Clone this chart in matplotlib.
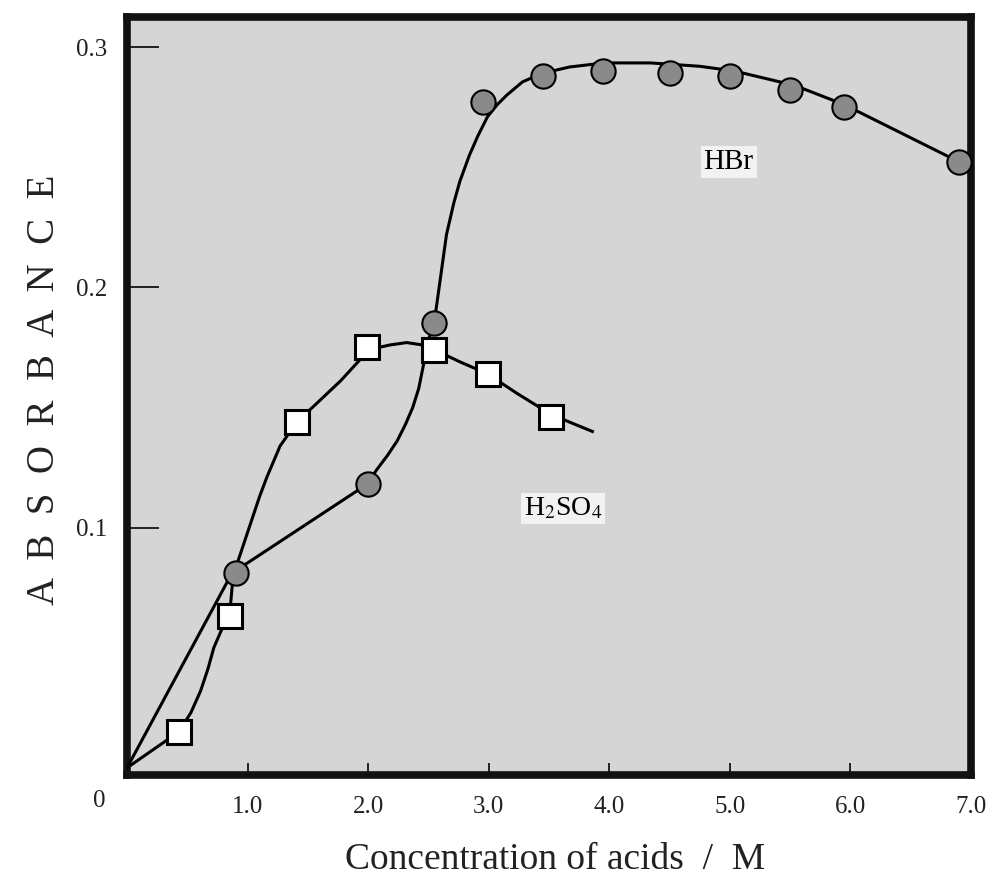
import matplotlib
matplotlib.use("Agg")
import matplotlib.pyplot as plt

# HBr data points (circles)
hbr_x = [0.9, 2.0, 2.55, 2.95, 3.45, 3.95, 4.5, 5.0, 5.5, 5.95, 6.9]
hbr_y = [0.081, 0.118, 0.185, 0.277, 0.288, 0.290, 0.289, 0.288, 0.282, 0.275, 0.252]

# H2SO4 data points (squares)
h2so4_x = [0.43, 0.85, 1.41, 1.99, 2.55, 2.99, 3.52]
h2so4_y = [0.015, 0.063, 0.144, 0.175, 0.174, 0.164, 0.146]

# hand drawn fitting curves
hbr_curve_x = [0.0, 0.87, 1.99, 2.07, 2.16, 2.24, 2.31, 2.37, 2.42, 2.46, 2.50, 2.55,
               2.60, 2.65, 2.71, 2.76, 2.84, 2.91, 2.99, 3.07, 3.15, 3.28, 3.44, 3.67,
               3.96, 4.34, 4.75, 5.04, 5.54, 5.95, 6.91]
hbr_curve_y = [0.0, 0.081, 0.118, 0.124, 0.130, 0.136, 0.143, 0.150, 0.158, 0.168, 0.178, 0.186,
               0.204, 0.222, 0.235, 0.244, 0.255, 0.263, 0.271, 0.276, 0.280, 0.2855, 0.289, 0.2917,
               0.2934, 0.2934, 0.292, 0.290, 0.284, 0.276, 0.252]

h2so4_curve_x = [0.0, 0.43, 0.53, 0.61, 0.67, 0.72, 0.78, 0.85, 0.88, 0.96, 1.04, 1.10,
                 1.16, 1.27, 1.41, 1.58, 1.77, 1.99, 2.09, 2.18, 2.32, 2.45, 2.55, 2.76,
                 2.99, 3.23, 3.52, 3.86]
h2so4_curve_y = [0.0, 0.015, 0.023, 0.032, 0.041, 0.050, 0.057, 0.063, 0.080, 0.092, 0.104, 0.113,
                 0.121, 0.134, 0.144, 0.152, 0.161, 0.173, 0.175, 0.176, 0.177, 0.176, 0.174, 0.169,
                 0.164, 0.156, 0.147, 0.140]

x_ticks = [1, 2, 3, 4, 5, 6, 7]
x_tick_labels = ['1.0', '2.0', '3.0', '4.0', '5.0', '6.0', '7.0']
y_ticks = [0.1, 0.2, 0.3]
y_tick_labels = ['0.1', '0.2', '0.3']

plt.rcParams['font.family'] = ['Liberation Serif', 'DejaVu Serif']
plt.rcParams['mathtext.fontset'] = 'stix'

fig = plt.figure(figsize=(9.94, 8.96), dpi=100)
ax = fig.add_axes([0.1278, 0.135, 0.849, 0.846])
ax.set_facecolor('#d5d5d5')

# curves
ax.plot(hbr_curve_x, hbr_curve_y, color='black', linewidth=2.2, zorder=3)
ax.plot(h2so4_curve_x, h2so4_curve_y, color='black', linewidth=2.2, zorder=3)

# markers
ax.plot(hbr_x, hbr_y, linestyle='none', marker='o', markersize=17.5,
        markerfacecolor='#8a8a8a', markeredgecolor='black', markeredgewidth=1.5,
        zorder=5, clip_on=False)
ax.plot(h2so4_x, h2so4_y, linestyle='none', marker='s', markersize=17.5,
        markerfacecolor='white', markeredgecolor='black', markeredgewidth=2.2,
        zorder=4, clip_on=False)

ax.set_xlim(0, 7)
ax.set_ylim(-0.003, 0.3125)

# frame
for side in ['left', 'right', 'top', 'bottom']:
    ax.spines[side].set_linewidth(5.5)
    ax.spines[side].set_color('#111111')

ax.set_xticks(x_ticks)
ax.set_xticklabels(x_tick_labels)
ax.set_yticks(y_ticks)
ax.set_yticklabels(y_tick_labels)
ax.tick_params(axis='x', direction='in', length=8.5, width=1.4, pad=15,
               labelsize=18, colors='#222222')
ax.tick_params(axis='y', direction='in', length=23, width=1.4, pad=14,
               labelsize=18, colors='#222222')

ax.annotate('0', xy=(0, 0), xytext=(-20, -24), textcoords='offset points',
            ha='center', va='center', fontsize=18, color='#222222',
            annotation_clip=False)

# series labels
ax.text(4.99, 0.252, 'HBr', ha='center', va='center', fontsize=21,
        bbox=dict(facecolor='#f2f2f2', edgecolor='none', pad=2))
ax.text(3.62, 0.108, 'H$_2$SO$_4$', ha='center', va='center', fontsize=20,
        bbox=dict(facecolor='#f2f2f2', edgecolor='none', pad=2))

# axis titles
fig.text(0.045, 0.565, 'A  B  S  O  R  B  A  N  C  E', rotation=90,
         ha='center', va='center', fontsize=28, color='#222222')
fig.text(0.558, 0.04, 'Concentration of acids  /  M', ha='center', va='center',
         fontsize=27, color='#222222')

plt.savefig('out.png', dpi=100)
plt.close()
